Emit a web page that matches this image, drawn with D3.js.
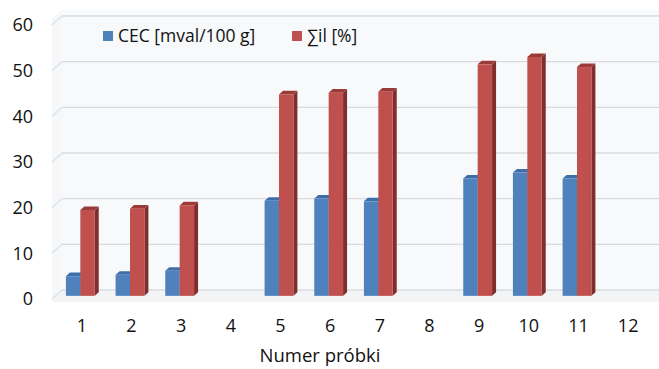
<!DOCTYPE html>
<html>
<head>
<meta charset="utf-8">
<script src="https://cdn.jsdelivr.net/npm/d3@7"></script>
<style>
  body { margin: 0; background: #ffffff; }
</style>
</head>
<body>
<div id="chart"></div>
<script>
const categories = ["1", "2", "3", "4", "5", "6", "7", "8", "9", "10", "11", "12"];
const cecValues = [4.3, 4.6, 5.5, null, 20.8, 21.3, 20.7, null, 25.7, 27.0, 25.7, null];
const ilValues = [18.8, 19.1, 19.8, null, 44.1, 44.5, 44.7, null, 50.7, 52.3, 50.1, null];
const seriesNames = ["CEC [mval/100 g]", "∑il [%]"];
const yTicks = [0, 10, 20, 30, 40, 50, 60];

const width = 659;
const height = 369;

const colors = [
    { front: "#4f81bd", side: "#2f5a8c", top: "#3d6ea8" },
    { front: "#c0504d", side: "#7f2e2c", top: "#9b3b38" }
];

// depth vector from back wall to front edge of the floor
const depthX = -10;
const depthY = 9;
// bars sit between these fractions of the depth
const barBack = 0.25;
const barFront = 0.65;

const svg = d3.select("#chart")
    .append("svg")
    .attr("width", width)
    .attr("height", height)
    .style("font-family", "'Open Sans', sans-serif");

// scales on the back wall
const y = d3.scaleLinear().domain([0, 60]).range([290, 16]);
const x = d3.scaleBand().domain(categories).range([62, 658]).paddingInner(0.42).paddingOuter(0.21);
const xSub = d3.scaleBand().domain([0, 1]).range([0, x.bandwidth()]);

const wallLeft = 62;
const wallRight = 659;

// back wall
svg.append("rect")
    .attr("x", wallLeft)
    .attr("y", y(60) - 6)
    .attr("width", wallRight - wallLeft)
    .attr("height", y(0) - y(60) + 6)
    .style("fill", "#f8f9fb");

// side wall
svg.append("path")
    .attr("d", `M${wallLeft},${y(60) - 6} L${wallLeft + depthX},${y(60) - 6 + depthY} L${wallLeft + depthX},${y(0) + depthY} L${wallLeft},${y(0)} Z`)
    .style("fill", "#f6f7f9");

// floor
svg.append("path")
    .attr("d", `M${wallLeft},${y(0)} L${wallRight},${y(0)} L${wallRight},${y(0) + depthY + 3} L${wallLeft + depthX},${y(0) + depthY + 3} L${wallLeft + depthX},${y(0) + depthY} Z`)
    .style("fill", "#f3f4f6");

// gridlines
const grid = svg.append("g");
yTicks.forEach(t => {
    grid.append("line")
        .attr("x1", wallLeft).attr("x2", wallRight)
        .attr("y1", y(t)).attr("y2", y(t))
        .style("stroke", "#d9dcdf")
        .style("stroke-width", 1.4);
    grid.append("line")
        .attr("x1", wallLeft).attr("x2", wallLeft + depthX)
        .attr("y1", y(t)).attr("y2", y(t) + depthY)
        .style("stroke", "#dfe2e5")
        .style("stroke-width", 1.4);
});

// y axis labels
svg.append("g")
    .selectAll("text")
    .data(yTicks)
    .enter()
    .append("text")
    .attr("x", 33)
    .attr("y", d => y(d) + depthY)
    .attr("dy", "0.36em")
    .attr("text-anchor", "end")
    .style("font-size", "18px")
    .style("fill", "#111")
    .text(d => d);

// bars
const bars = [];
categories.forEach((c, i) => {
    [cecValues[i], ilValues[i]].forEach((v, s) => {
        if (v == null) return;
        bars.push({ cat: c, series: s, value: v });
    });
});

const bx0 = barFront * depthX, by0 = barFront * depthY;
const bx1 = barBack * depthX, by1 = barBack * depthY;

const barG = svg.append("g")
    .selectAll("g")
    .data(bars)
    .enter()
    .append("g");

barG.each(function (d) {
    const g = d3.select(this);
    const left = x(d.cat) + xSub(d.series);
    const w = xSub.bandwidth();
    const top = y(d.value);
    const base = y(0);
    const c = colors[d.series];
    // side face
    g.append("path")
        .attr("d", `M${left + w + bx0},${top + by0} L${left + w + bx1},${top + by1} L${left + w + bx1},${base + by1} L${left + w + bx0},${base + by0} Z`)
        .style("fill", c.side);
    // top face
    g.append("path")
        .attr("d", `M${left + bx0},${top + by0} L${left + bx1},${top + by1} L${left + w + bx1},${top + by1} L${left + w + bx0},${top + by0} Z`)
        .style("fill", c.top);
    // front face
    g.append("rect")
        .attr("x", left + bx0)
        .attr("y", top + by0)
        .attr("width", w)
        .attr("height", base - top)
        .style("fill", c.front);
});

// x axis labels
svg.append("g")
    .selectAll("text")
    .data(categories)
    .enter()
    .append("text")
    .attr("x", d => x(d) + x.bandwidth() / 2 + depthX / 2)
    .attr("y", 332)
    .attr("text-anchor", "middle")
    .style("font-size", "18px")
    .style("fill", "#111")
    .text(d => d);

// x axis title
svg.append("text")
    .attr("x", 320)
    .attr("y", 362)
    .attr("text-anchor", "middle")
    .style("font-size", "18.5px")
    .style("fill", "#111")
    .text("Numer próbki");

// legend
const legendItems = [
    { color: colors[0].front, label: seriesNames[0], x: 103 },
    { color: colors[1].front, label: seriesNames[1], x: 292 }
];
legendItems.forEach(item => {
    svg.append("rect")
        .attr("x", item.x)
        .attr("y", 31)
        .attr("width", 10)
        .attr("height", 10)
        .style("fill", item.color);
    svg.append("text")
        .attr("x", item.x + 15)
        .attr("y", 42)
        .style("font-size", "17.5px")
        .style("fill", "#111")
        .text(item.label);
});
</script>
</body>
</html>
